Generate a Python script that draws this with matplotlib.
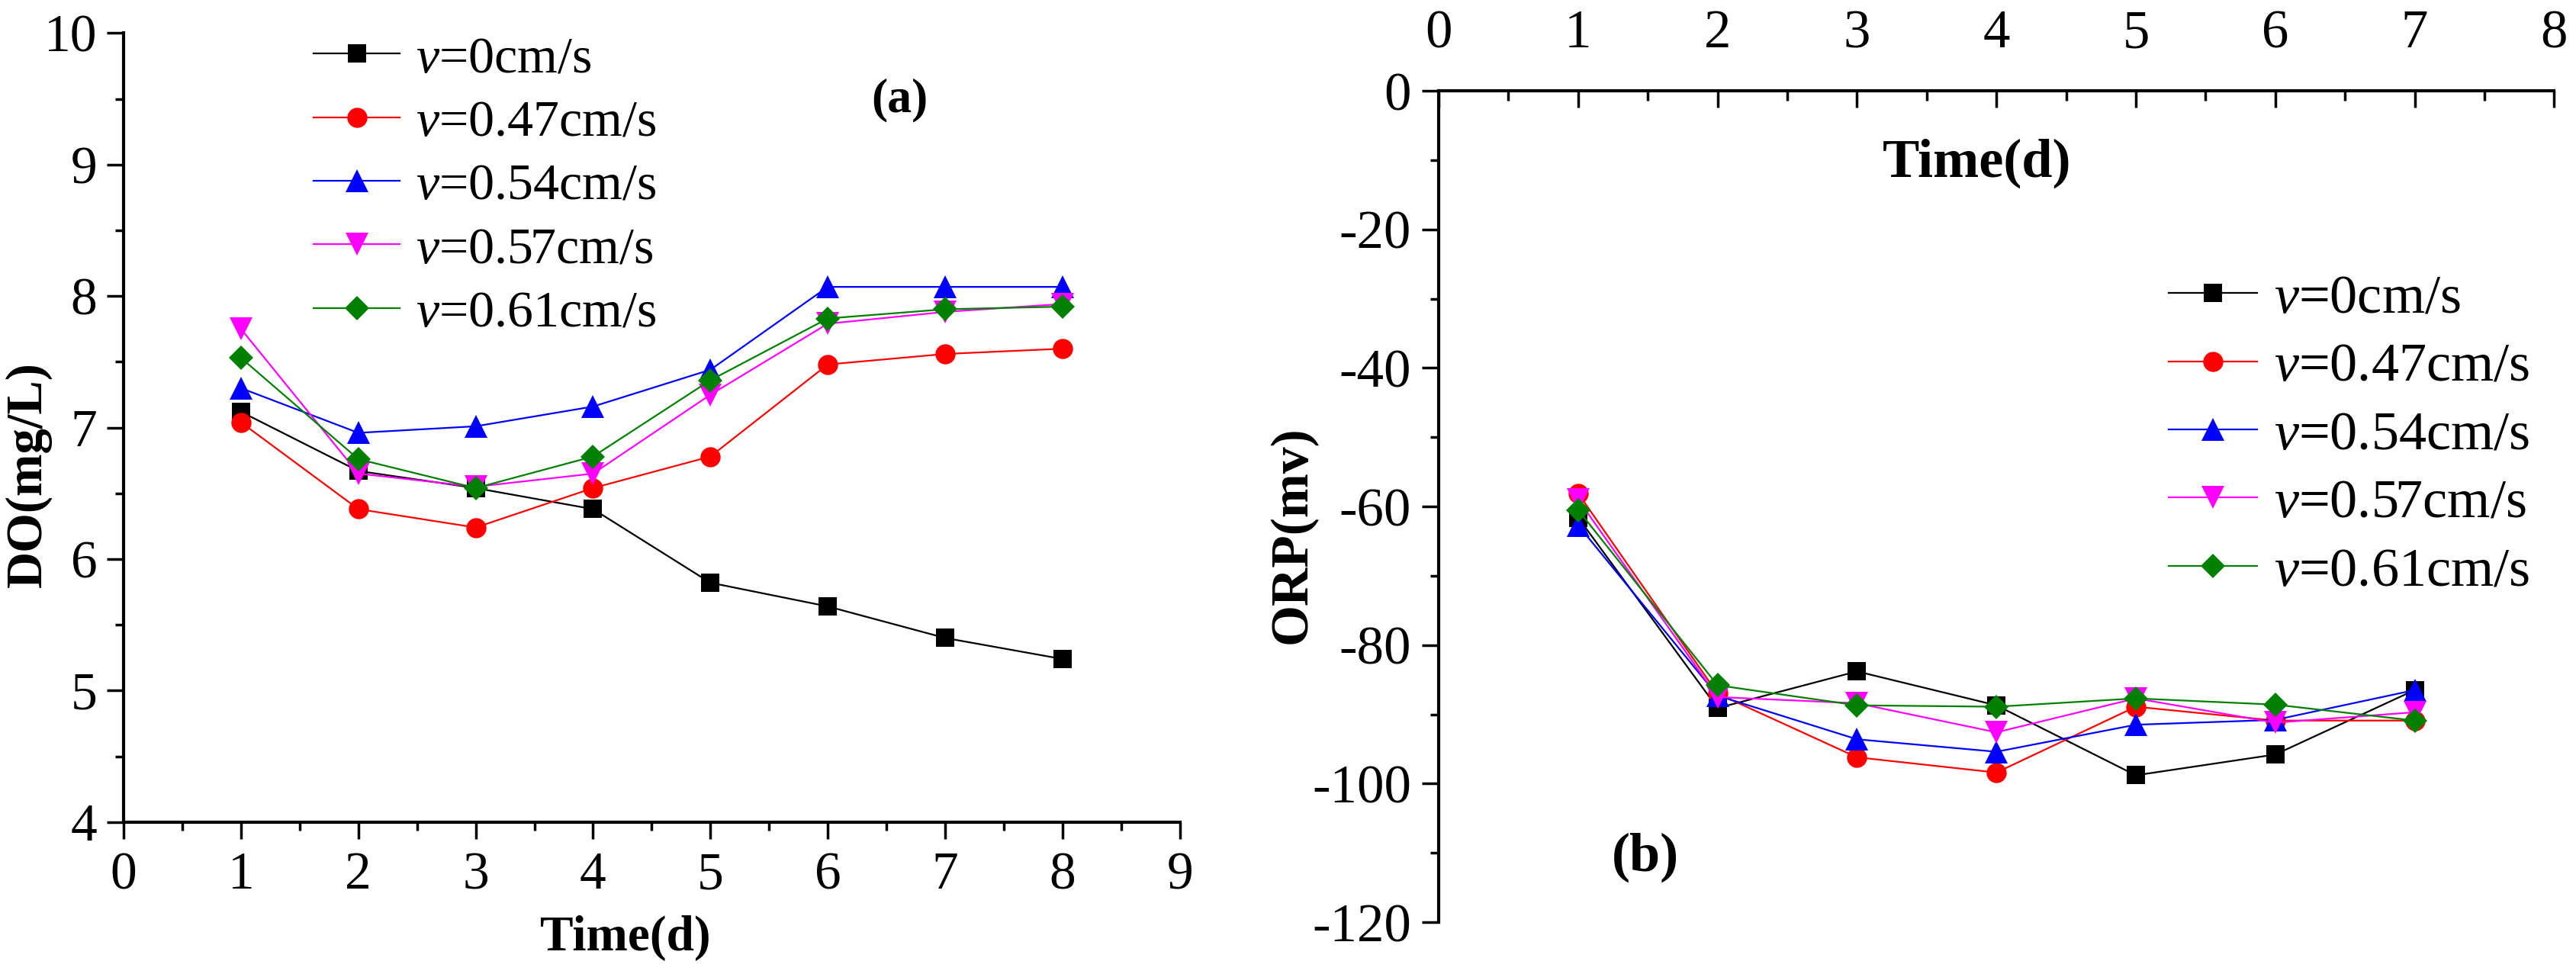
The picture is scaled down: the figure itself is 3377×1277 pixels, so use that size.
import numpy as np
import matplotlib
matplotlib.use("Agg")
import matplotlib.pyplot as plt
from matplotlib.ticker import MultipleLocator

plt.rcParams['font.family'] = ['Liberation Serif', 'DejaVu Serif']
plt.rcParams['mathtext.fontset'] = 'custom'
plt.rcParams['mathtext.it'] = 'Liberation Serif:italic'
plt.rcParams['mathtext.rm'] = 'Liberation Serif'
plt.rcParams['axes.unicode_minus'] = False

# ---- data ----
speed_labels = ["$v$=0cm/s", "$v$=0.47cm/s", "$v$=0.54cm/s", "$v$=0.57cm/s", "$v$=0.61cm/s"]

days_do = [1, 2, 3, 4, 5, 6, 7, 8]
do_v000 = [7.12, 6.67, 6.54, 6.38, 5.82, 5.64, 5.40, 5.24]
do_v047 = [7.04, 6.38, 6.24, 6.54, 6.78, 7.48, 7.56, 7.60]
do_v054 = [7.30, 6.96, 7.01, 7.16, 7.44, 8.07, 8.07, 8.07]
do_v057 = [7.75, 6.65, 6.55, 6.65, 7.25, 7.79, 7.88, 7.94]
do_v061 = [7.53, 6.76, 6.54, 6.78, 7.36, 7.83, 7.90, 7.92]

days_orp = [1, 2, 3, 4, 5, 6, 7]
orp_v000 = [-61.6, -89.1, -83.8, -88.7, -98.8, -95.8, -86.5]
orp_v047 = [-58.1, -87.0, -96.2, -98.4, -88.9, -90.9, -90.9]
orp_v054 = [-62.7, -87.3, -93.6, -95.4, -91.5, -90.8, -86.5]
orp_v057 = [-59.0, -87.5, -88.4, -92.6, -87.7, -91.2, -89.7]
orp_v061 = [-60.5, -85.8, -88.7, -88.9, -87.7, -88.6, -90.9]

# ---- styles ----
colors = ['black', '#FF0000', '#0000FF', '#FF00FF', '#008000']
markers = ['s', 'o', '^', 'v', 'D']
msizes = [17, 19, 22, 22, 16]

fig = plt.figure(figsize=(33.77, 12.77), dpi=100)
ax1 = fig.add_axes([0.048, 0.156, 0.410, 0.810])
ax2 = fig.add_axes([0.5585, 0.0532, 0.433, 0.8536])

# (a) DO
for vals, c, m, ms, lab in zip([do_v000, do_v047, do_v054, do_v057, do_v061],
                               colors, markers, msizes, speed_labels):
    ax1.plot(days_do, vals, color=c, marker=m, markersize=ms, lw=1.6,
             markeredgewidth=0, label=lab)

ax1.set_xlim(0, 9)
ax1.set_ylim(4, 10)
ax1.xaxis.set_major_locator(MultipleLocator(1))
ax1.xaxis.set_minor_locator(MultipleLocator(0.5))
ax1.yaxis.set_major_locator(MultipleLocator(1))
ax1.yaxis.set_minor_locator(MultipleLocator(0.5))
for s in ['top', 'right']:
    ax1.spines[s].set_visible(False)
for s in ['left', 'bottom']:
    ax1.spines[s].set_linewidth(3)
ax1.tick_params(which='major', direction='out', length=16, width=2.5, labelsize=50)
ax1.tick_params(axis='x', which='major', pad=12)
ax1.tick_params(axis='y', which='major', pad=9)
ax1.tick_params(which='minor', direction='out', length=8, width=2.5)
ax1.text(-0.09, 0.441, "DO(mg/L)", transform=ax1.transAxes, rotation=90,
         ha='center', va='center', fontsize=48, fontweight='bold')
ax1.text(0.475, -0.147, "Time(d)", transform=ax1.transAxes,
         ha='center', va='center', fontsize=47, fontweight='bold')
ax1.text(6.61, 9.49, "(a)", ha='center', va='center', fontsize=46, fontweight='bold')
ax1.legend(loc='upper left', bbox_to_anchor=(0.155, 1.03), frameon=False, fontsize=49,
           handlelength=1.67, handletextpad=0.3, labelspacing=0.32, borderpad=0)

# (b) ORP
for vals, c, m, ms, lab in zip([orp_v000, orp_v047, orp_v054, orp_v057, orp_v061],
                               colors, markers, msizes, speed_labels):
    ax2.plot(days_orp, vals, color=c, marker=m, markersize=ms, lw=1.6,
             markeredgewidth=0, label=lab)

ax2.set_xlim(0, 8)
ax2.set_ylim(-120, 0)
ax2.xaxis.set_major_locator(MultipleLocator(1))
ax2.xaxis.set_minor_locator(MultipleLocator(0.5))
ax2.yaxis.set_major_locator(MultipleLocator(20))
ax2.yaxis.set_minor_locator(MultipleLocator(10))
ax2.xaxis.tick_top()
for s in ['bottom', 'right']:
    ax2.spines[s].set_visible(False)
for s in ['left', 'top']:
    ax2.spines[s].set_linewidth(3)
ax2.tick_params(axis='x', which='major', direction='in', length=16, width=2.5,
                labelsize=51, pad=30)
ax2.tick_params(axis='x', which='minor', direction='in', length=9, width=2.5)
ax2.tick_params(axis='y', which='major', direction='out', length=16, width=2.5,
                labelsize=51, pad=10)
ax2.tick_params(axis='y', which='minor', direction='out', length=8, width=2.5)
ax2.text(-0.131, 0.466, "ORP(mv)", transform=ax2.transAxes, rotation=90,
         ha='center', va='center', fontsize=50, fontweight='bold')
ax2.text(3.86, -10.5, "Time(d)", ha='center', va='center', fontsize=52, fontweight='bold')
ax2.text(1.48, -110.7, "(b)", ha='center', va='center', fontsize=52, fontweight='bold')
ax2.legend(loc='upper left', bbox_to_anchor=(0.63, 0.813), frameon=False, fontsize=52,
           handlelength=1.6, handletextpad=0.3, labelspacing=0.33, borderpad=0)

fig.savefig("out.png", dpi=100)
